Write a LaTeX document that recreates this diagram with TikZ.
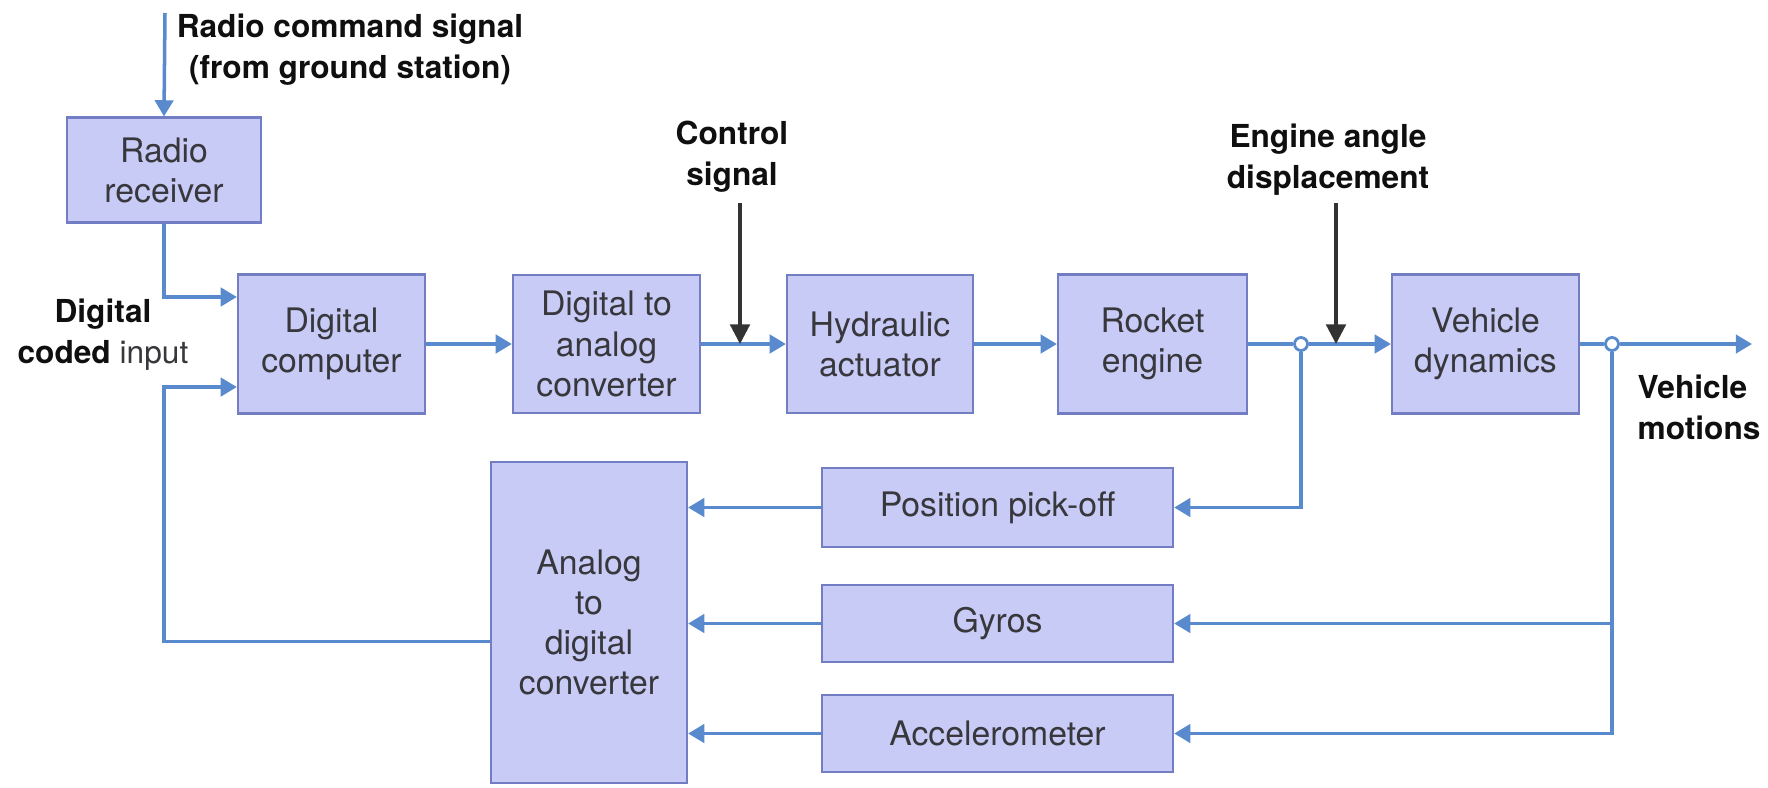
\documentclass[tikz,border=0pt]{standalone}
\usepackage{fontspec}
\setmainfont{TeX Gyre Heros}
\usetikzlibrary{arrows.meta}
\definecolor{boxfill}{RGB}{200,203,246}
\definecolor{boxedge}{RGB}{115,125,195}
\definecolor{wire}{RGB}{88,138,205}
\definecolor{boxtext}{RGB}{55,55,60}
\definecolor{inktext}{RGB}{15,15,15}

\begin{document}
\begin{tikzpicture}[x=0.01cm,y=-0.01cm,
  blk/.style={draw=boxedge, fill=boxfill, line width=0.6pt, inner sep=0pt,
    align=center, text=boxtext, font=\fontsize{9.6}{11.4}\selectfont},
  lbl/.style={align=center, text=inktext, inner sep=0pt,
    font=\fontsize{9}{11.6}\selectfont\bfseries},
  wireline/.style={draw=wire, line width=1pt},
  flow/.style={wireline, -{Triangle[length=4.6pt,width=5.2pt]}},
  cmd/.style={draw=black!80, line width=0.9pt, -{Triangle[length=5.6pt,width=5.6pt]}},
  joint/.style={circle, draw=wire, fill=white, line width=0.8pt,
    minimum size=0.13cm, inner sep=0pt}
]
\useasboundingbox (0,0) rectangle (1768,787);

% forward path blocks
\node[blk, minimum width=1.94cm, minimum height=1.05cm] (rr)  at (164,170)    {Radio\\receiver};
\node[blk, minimum width=1.87cm, minimum height=1.39cm] (dc)  at (331.5,344)  {Digital\\computer};
\node[blk, minimum width=1.87cm, minimum height=1.38cm] (dac) at (606.5,344)  {Digital to\\analog\\converter};
\node[blk, minimum width=1.86cm, minimum height=1.38cm] (ha)  at (880,344)    {Hydraulic\\actuator};
\node[blk, minimum width=1.89cm, minimum height=1.39cm] (re)  at (1152.5,344) {Rocket\\engine};
\node[blk, minimum width=1.87cm, minimum height=1.39cm] (vd)  at (1485.5,344) {Vehicle\\dynamics};

% feedback path blocks
\node[blk, minimum width=1.96cm, minimum height=3.21cm] (adc) at (589,622.5)  {Analog\\to\\digital\\converter};
\node[blk, minimum width=3.51cm, minimum height=0.79cm] (ppo) at (997.5,507.5) {Position pick-off};
\node[blk, minimum width=3.51cm, minimum height=0.77cm] (gyr) at (997.5,623.5) {Gyros};
\node[blk, minimum width=3.51cm, minimum height=0.77cm] (acc) at (997.5,733.5) {Accelerometer};

% pick-off points
\node[joint] (j1) at (1301,344) {};
\node[joint] (j2) at (1612,344) {};

% labels
\node[lbl] (radiolbl) at (350,50)   {Radio command signal\\(from ground station)};
\node[lbl] (ctrl)     at (732,157)  {Control\\signal};
\node[lbl] (eng)      at (1328,160) {Engine angle\\displacement};
\node[lbl, align=left, anchor=west] (motion) at (1637,407) {Vehicle\\motions};
\node[lbl] (dci)      at (103,335)  {Digital\\coded {\mdseries\color{boxtext}input}};

% free ends
\coordinate (radiotop) at (165,13);
\coordinate (in1) at ([yshift=0.47cm]dc.west);
\coordinate (in2) at ([yshift=-0.43cm]dc.west);
\coordinate (ctrltop) at (740,203);
\coordinate (ctrltip) at (740,344);
\coordinate (engtop) at (1336,203);
\coordinate (engtip) at (1336,344);
\coordinate (out) at (1752,344);

% forward connections
\draw[flow] (radiotop) -- (rr.north);
\draw[flow] (rr.south) |- (in1);
\draw[flow] (dc) -- (dac);
\draw[flow] (dac) -- (ha);
\draw[flow] (ha) -- (re);
\draw[wireline] (re) -- (j1);
\draw[flow] (j1) -- (vd);
\draw[wireline] (vd) -- (j2);
\draw[flow] (j2) -- (out);

% external commands
\draw[cmd] (ctrltop) -- (ctrltip);
\draw[cmd] (engtop) -- (engtip);

% feedback connections
\draw[flow] (j1.south) |- (ppo.east);
\draw[flow] (j2.south) |- (gyr.east);
\draw[flow] (j2.south) |- (acc.east);
\draw[flow] (ppo.west) -- (ppo.west -| adc.east);
\draw[flow] (gyr.west) -- (gyr.west -| adc.east);
\draw[flow] (acc.west) -- (acc.west -| adc.east);
\draw[flow] ([yshift=-0.19cm]adc.west) -| (rr.south |- in2) -- (in2);
\end{tikzpicture}
\end{document}
